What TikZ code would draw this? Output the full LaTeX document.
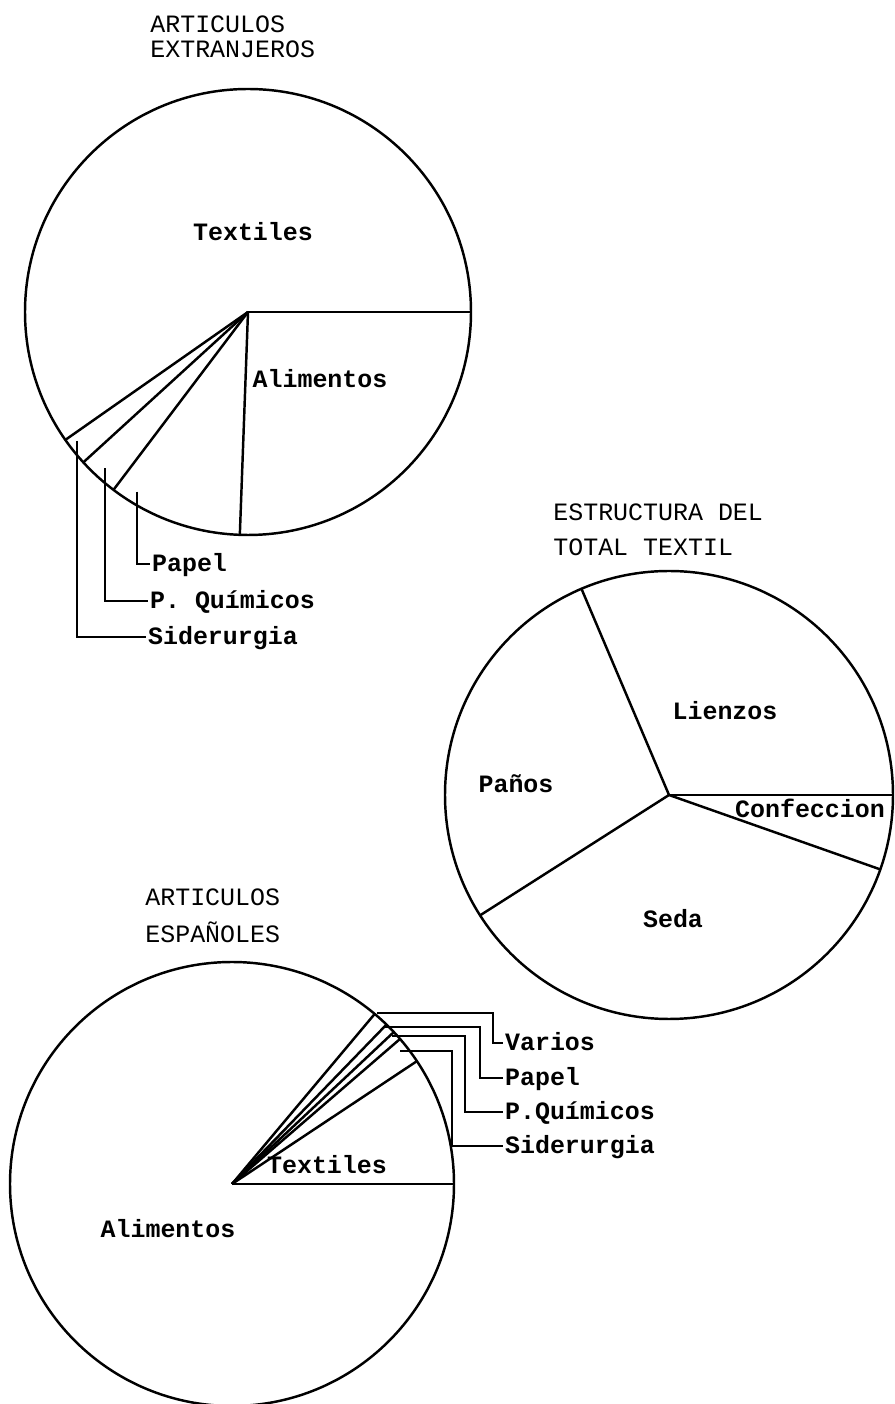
\documentclass[tikz,border=0pt]{standalone}
\usepackage{fontspec}
\setmonofont{Liberation Mono}
\usepackage{tikz}

\tikzset{
    tarta/.style={line width=1.4pt},
    rotulo/.style={font=\ttfamily\bfseries\fontsize{14.2}{17}\selectfont, text height=9pt, text depth=0pt, inner sep=1pt},
    cabecera/.style={font=\ttfamily\fontsize{14.2}{17}\selectfont, text height=9pt, text depth=0pt, inner sep=0pt, anchor=west},
}

\begin{document}
\begin{tikzpicture}[x=0.02cm,y=0.02cm]
    \useasboundingbox (0,0) rectangle (895,1404) ;

    \begin{scope}[shift={(248,1092)}]
    \node[cabecera] (extA) at (-98,287) {ARTICULOS} ;
    \node[cabecera] (extB) at (-98,262) {EXTRANJEROS} ;
    \draw[tarta] (0,0) circle (223) ;
    \draw[tarta] (0,0) -- (0:223) ; \draw[tarta] (0,0) -- (215:223) ;
    \draw[tarta] (0,0) -- (222.4:223) ; \draw[tarta] (0,0) -- (232.9:223) ;
    \draw[tarta] (0,0) -- (267.9:223) ;
    \node[rotulo] (extTex) at (5,79) {Textiles} ;
    \node[rotulo] (extAli) at (72,-68) {Alimentos} ;
    \coordinate (extPap) at (238.3:211) ;
    \coordinate (extQui) at (227.5:212) ;
    \coordinate (extSid) at (217:214) ;
    \node[rotulo,anchor=west] (extPapL) at (-98,-252) {Papel} ;
    \node[rotulo,anchor=west] (extQuiL) at (-100,-289) {P. Químicos} ;
    \node[rotulo,anchor=west] (extSidL) at (-102,-325) {Siderurgia} ;
    \draw[tarta] (extPap) |- (extPapL.west) ;
    \draw[tarta] (extQui) |- (extQuiL.west) ;
    \draw[tarta] (extSid) |- (extSidL.west) ;
    \end{scope}

    \begin{scope}[shift={(669,609)}]
    \node[cabecera] (texA) at (-116,282) {ESTRUCTURA DEL} ;
    \node[cabecera] (texB) at (-116,247) {TOTAL TEXTIL} ;
    \draw[tarta] (0,0) circle (224) ;
    \draw[tarta] (0,0) -- (0:224) ; \draw[tarta] (0,0) -- (113:224) ;
    \draw[tarta] (0,0) -- (212.5:224) ; \draw[tarta] (0,0) -- (340.6:224) ;
    \node[rotulo] (texLie) at (56,83) {Lienzos} ;
    \node[rotulo] (texPan) at (-153,10) {Paños} ;
    \node[rotulo] (texCon) at (141,-15) {Confeccion} ;
    \node[rotulo] (texSed) at (4,-125) {Seda} ;
    \end{scope}

    \begin{scope}[shift={(232,220)}]
    \node[cabecera] (espA) at (-87,286) {ARTICULOS} ;
    \node[cabecera] (espB) at (-87,249) {ESPAÑOLES} ;
    \draw[tarta] (0,0) circle (222) ;
    \draw[tarta] (0,0) -- (0:222) ; \draw[tarta] (0,0) -- (33.6:222) ;
    \draw[tarta] (0,0) -- (40.8:222) ; \draw[tarta] (0,0) -- (43.2:222) ;
    \draw[tarta] (0,0) -- (45.9:222) ; \draw[tarta] (0,0) -- (50:222) ;
    \node[rotulo] (espTex) at (95,18) {Textiles} ;
    \node[rotulo] (espAli) at (-64,-46) {Alimentos} ;
    \coordinate (espVar) at (145,171) ; \coordinate (espVarB) at (261,171) ;
    \coordinate (espPap) at (151,157) ; \coordinate (espPapB) at (248,157) ;
    \coordinate (espQui) at (160,148) ; \coordinate (espQuiB) at (233,148) ;
    \coordinate (espSid) at (168,133) ; \coordinate (espSidB) at (220,133) ;
    \node[rotulo,anchor=west] (espVarL) at (271,141) {Varios} ;
    \node[rotulo,anchor=west] (espPapL) at (271,106) {Papel} ;
    \node[rotulo,anchor=west] (espQuiL) at (271,72) {P.Químicos} ;
    \node[rotulo,anchor=west] (espSidL) at (271,38) {Siderurgia} ;
    \draw[tarta] (espVar) -- (espVarB) |- (espVarL.west) ;
    \draw[tarta] (espPap) -- (espPapB) |- (espPapL.west) ;
    \draw[tarta] (espQui) -- (espQuiB) |- (espQuiL.west) ;
    \draw[tarta] (espSid) -- (espSidB) |- (espSidL.west) ;
    \end{scope}
\end{tikzpicture}
\end{document}
